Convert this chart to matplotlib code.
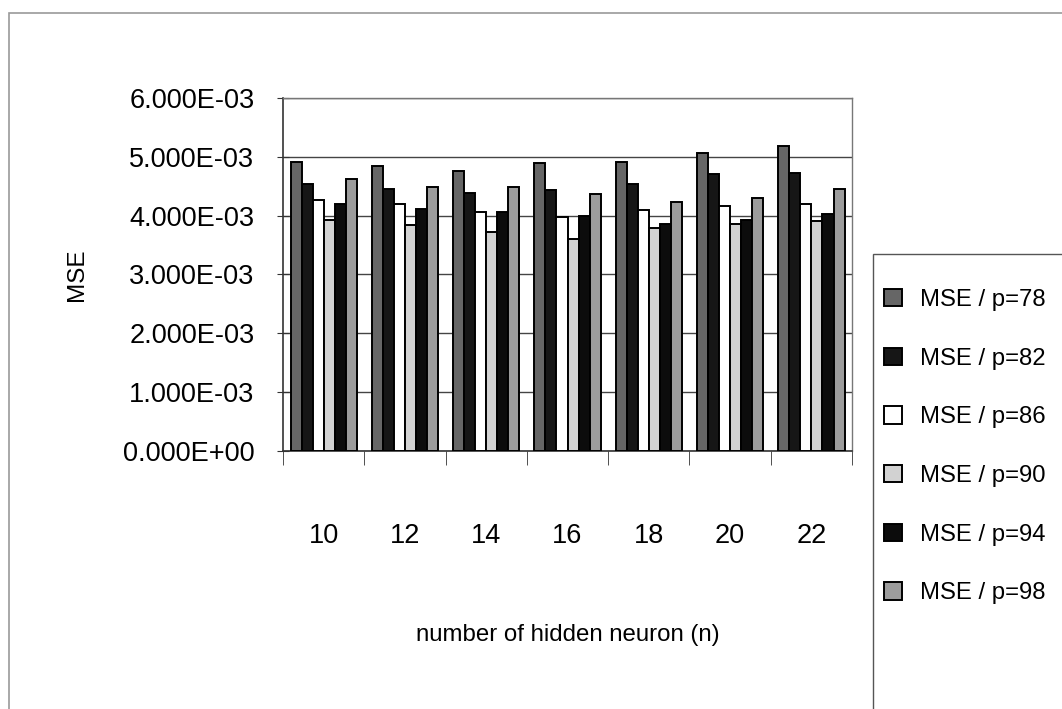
import numpy as np
import matplotlib
matplotlib.use("Agg")
import matplotlib.pyplot as plt
from matplotlib.ticker import MultipleLocator, FuncFormatter, FixedLocator
from matplotlib.patches import Rectangle

plt.rcParams['font.family'] = ['Liberation Sans', 'DejaVu Sans']

# ---- data (MSE x 1e-3)
neurons = ['10', '12', '14', '16', '18', '20', '22']
labels = ['MSE / p=78', 'MSE / p=82', 'MSE / p=86', 'MSE / p=90', 'MSE / p=94', 'MSE / p=98']
mse_p78 = [4.92, 4.84, 4.76, 4.90, 4.91, 5.06, 5.18]
mse_p82 = [4.54, 4.46, 4.38, 4.44, 4.54, 4.70, 4.72]
mse_p86 = [4.27, 4.19, 4.07, 3.97, 4.09, 4.16, 4.19]
mse_p90 = [3.93, 3.84, 3.72, 3.61, 3.79, 3.85, 3.91]
mse_p94 = [4.20, 4.11, 4.07, 3.99, 3.86, 3.93, 4.03]
mse_p98 = [4.62, 4.49, 4.48, 4.36, 4.23, 4.30, 4.45]

series = [mse_p78, mse_p82, mse_p86, mse_p90, mse_p94, mse_p98]
colors = ['#666666', '#161616', '#ffffff', '#d2d2d2', '#0c0c0c', '#9c9c9c']

fig = plt.figure(figsize=(10.62, 7.09), dpi=100)
ax = fig.add_axes([0.2665, 0.3639, 0.5358, 0.4979])

x = np.arange(len(neurons))
bw = 0.136
for i, (vals, c, lab) in enumerate(zip(series, colors, labels)):
    ax.bar(x + (i - 2.5) * bw, np.array(vals) * 1e-3, width=bw, color=c,
           edgecolor='black', linewidth=1.4, label=lab, zorder=3)

ax.set_xlim(-0.5, len(neurons) - 0.5)
ax.set_ylim(0, 0.006)
ax.yaxis.set_major_locator(MultipleLocator(0.001))
ax.yaxis.set_major_formatter(FuncFormatter(lambda v, p: f"{v:.3E}"))
ax.grid(axis='y', color='#444444', linewidth=1.0, zorder=0)

ax.xaxis.set_major_locator(FixedLocator(x))
ax.set_xticklabels(neurons)
ax.xaxis.set_minor_locator(FixedLocator(np.arange(len(neurons) + 1) - 0.5))
ax.tick_params(axis='x', which='major', length=0, pad=52, labelsize=19.5)
ax.tick_params(axis='x', which='minor', length=10, direction='out', color='#333333')
ax.tick_params(axis='y', length=9, direction='inout', labelsize=19.5, pad=16, color='#333333')

for s in ['left', 'bottom']:
    ax.spines[s].set_color('#333333')
    ax.spines[s].set_linewidth(1.2)
for s in ['top', 'right']:
    ax.spines[s].set_color('#777777')
    ax.spines[s].set_linewidth(1.0)

ax.set_ylabel('MSE', fontsize=17.5)
ax.yaxis.set_label_coords(-0.343, 0.5)
ax.set_xlabel('number of hidden neuron (n)', fontsize=17.3)
ax.xaxis.set_label_coords(0.5, -0.49)

# outer chart frame
fig.patches.append(Rectangle((9 / 1062, -0.05), 1.2, 1 - 13 / 709 + 0.05,
                             transform=fig.transFigure, fill=False,
                             edgecolor='#9a9a9a', linewidth=1.2, zorder=0))

# legend box (runs off the bottom/right edge as in the original)
fig.patches.append(Rectangle((873 / 1062, -0.05), 0.3, 1 - 254 / 709 + 0.05,
                             transform=fig.transFigure, fill=True,
                             facecolor='white', edgecolor='#555555',
                             linewidth=1.0, zorder=1))

leg = fig.legend(loc='upper left', bbox_to_anchor=(884 / 1062, 1 - 289 / 709),
                 borderaxespad=0, fontsize=17.2, frameon=False,
                 handlelength=0.75, handleheight=0.75,
                 handletextpad=0.75, labelspacing=1.53, borderpad=0)

fig.savefig('out.png', dpi=100)
